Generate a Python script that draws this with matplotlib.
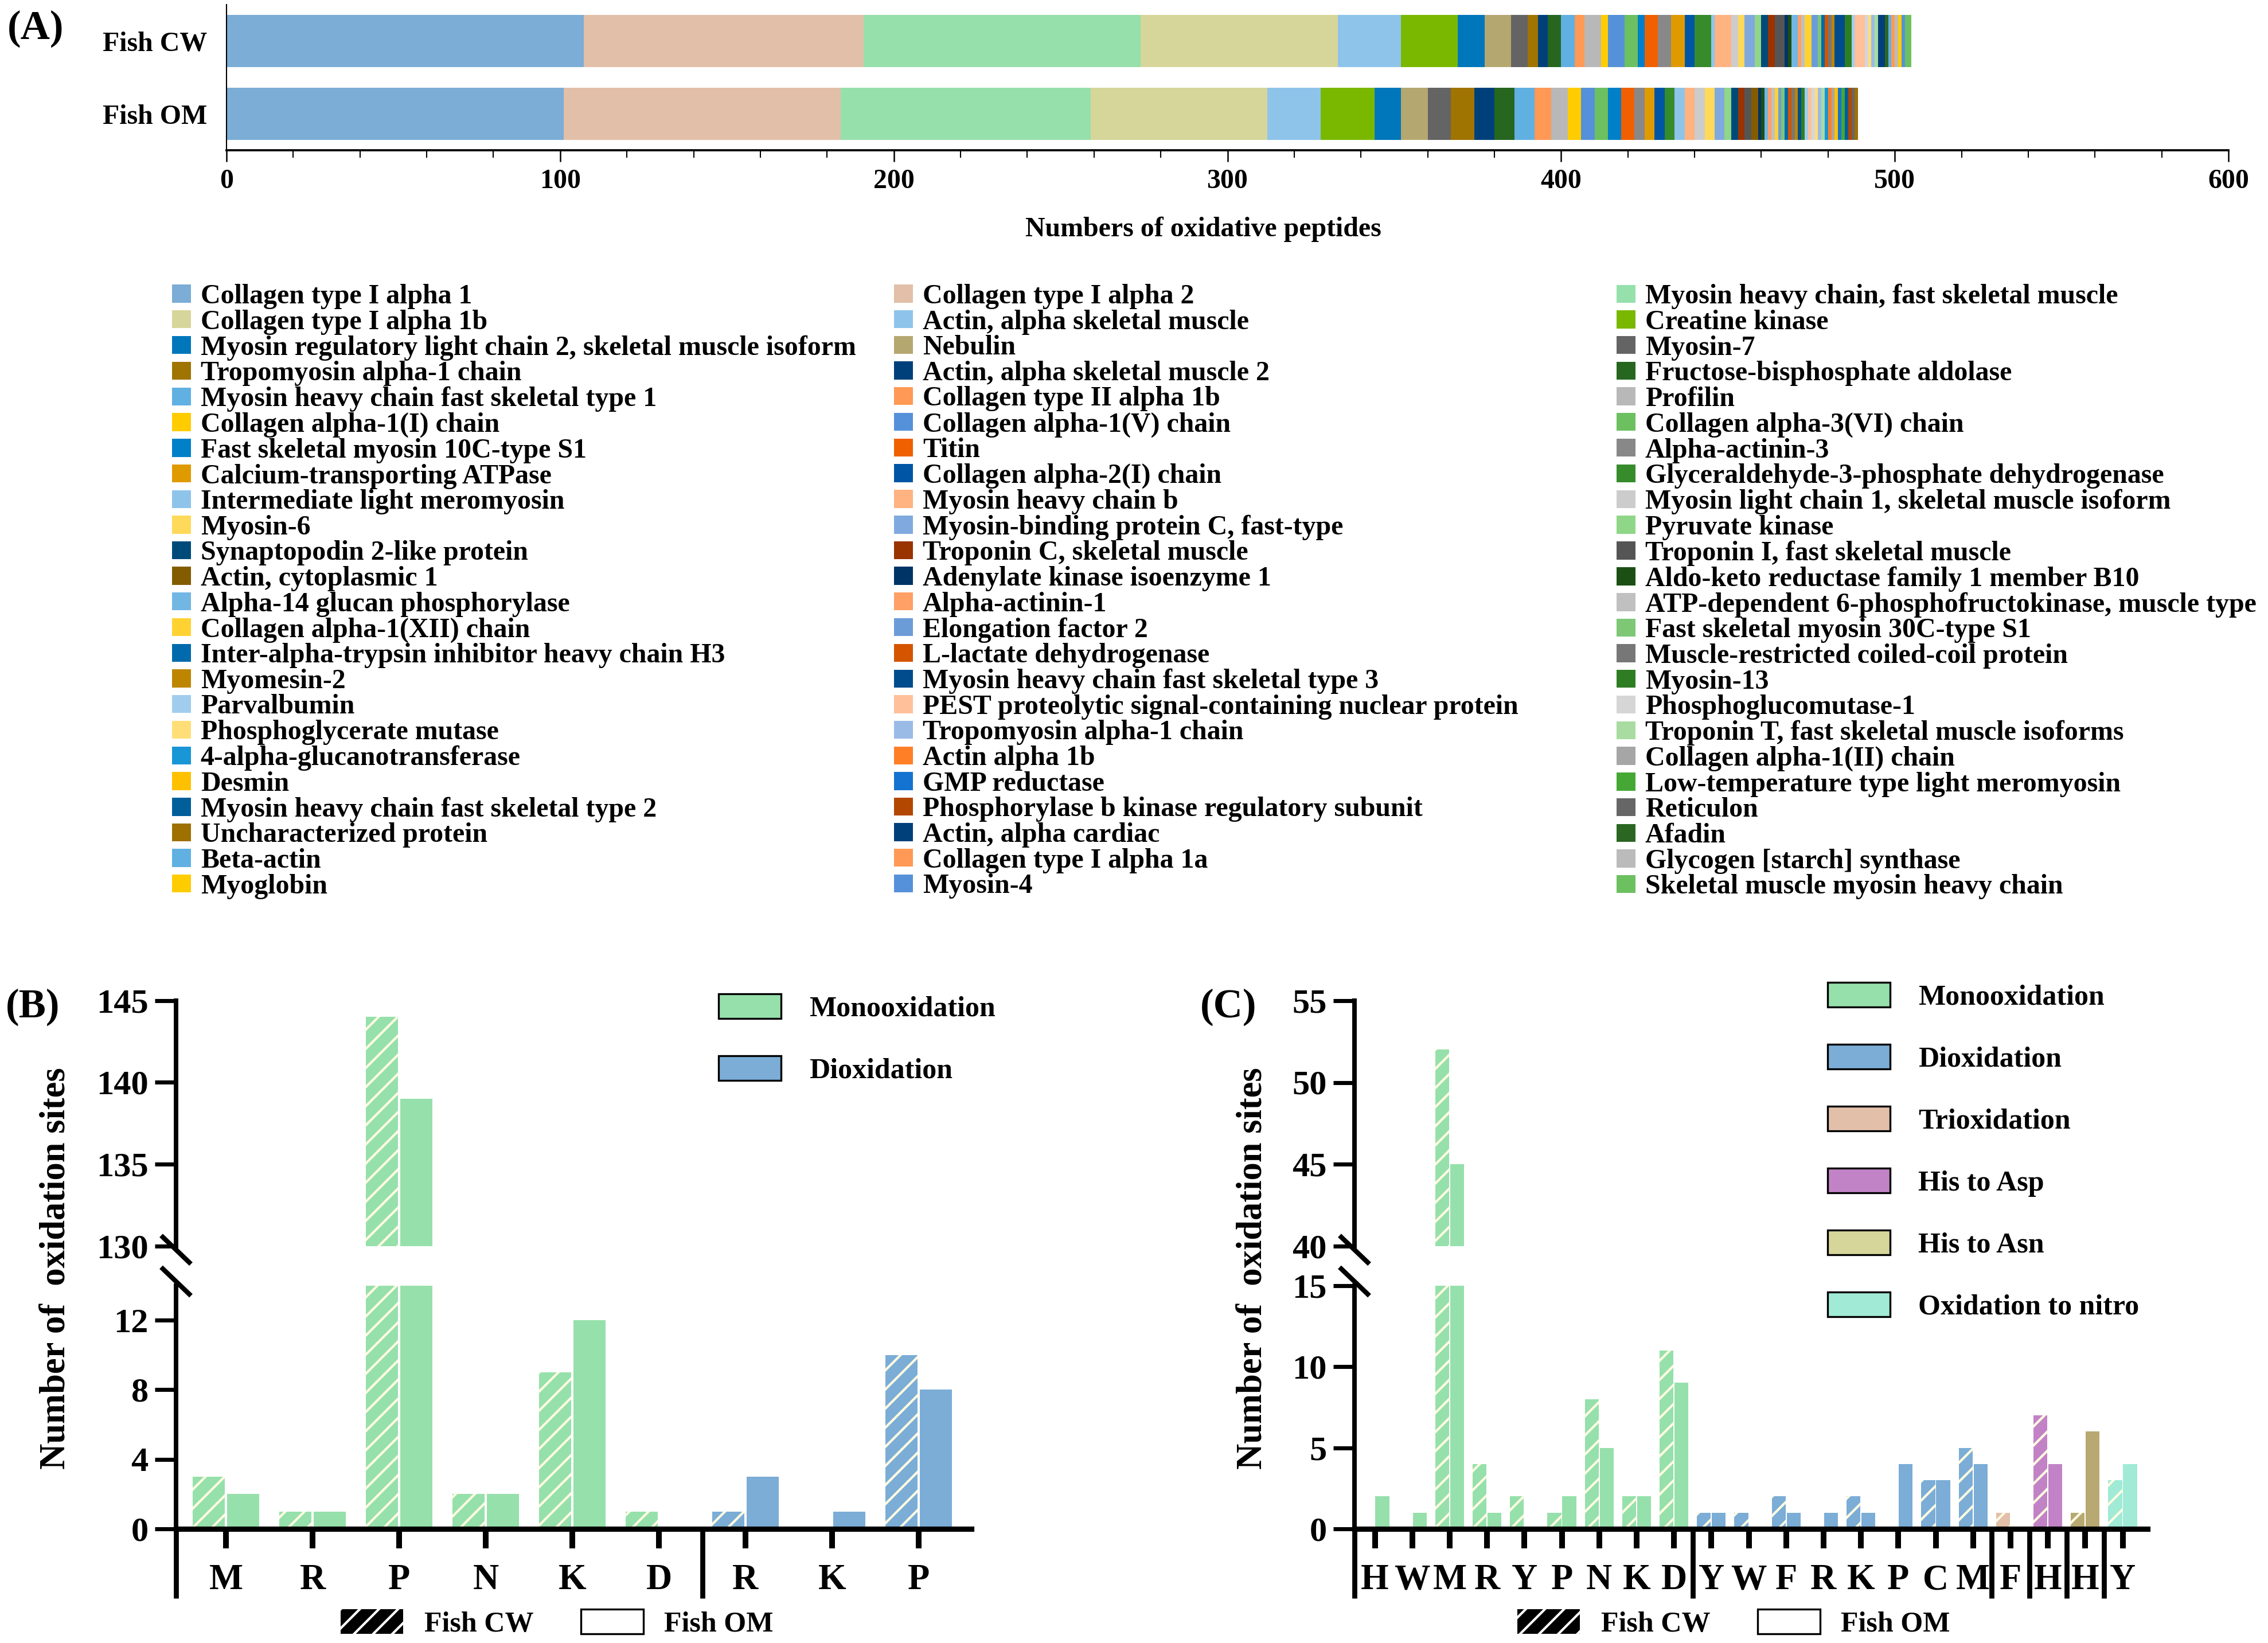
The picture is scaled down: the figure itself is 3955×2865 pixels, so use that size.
import numpy as np
import matplotlib
matplotlib.use('Agg')
import matplotlib.pyplot as plt
from matplotlib.patches import Patch
from matplotlib.ticker import MultipleLocator

plt.rcParams['font.family'] = ['Liberation Serif', 'DejaVu Serif']
plt.rcParams['font.weight'] = 'bold'
plt.rcParams['axes.labelweight'] = 'bold'
plt.rcParams['hatch.linewidth'] = 1.0

# ---------------- data: panel A (bar order = legend read row by row) ----------------
proteins = [
    'Collagen type I alpha 1', 'Collagen type I alpha 2', 'Myosin heavy chain, fast skeletal muscle',
    'Collagen type I alpha 1b', 'Actin, alpha skeletal muscle', 'Creatine kinase',
    'Myosin regulatory light chain 2, skeletal muscle isoform', 'Nebulin', 'Myosin-7',
    'Tropomyosin alpha-1 chain', 'Actin, alpha skeletal muscle 2', 'Fructose-bisphosphate aldolase',
    'Myosin heavy chain fast skeletal type 1', 'Collagen type II alpha 1b', 'Profilin',
    'Collagen alpha-1(I) chain', 'Collagen alpha-1(V) chain', 'Collagen alpha-3(VI) chain',
    'Fast skeletal myosin 10C-type S1', 'Titin', 'Alpha-actinin-3',
    'Calcium-transporting ATPase', 'Collagen alpha-2(I) chain', 'Glyceraldehyde-3-phosphate dehydrogenase',
    'Intermediate light meromyosin', 'Myosin heavy chain b', 'Myosin light chain 1, skeletal muscle isoform',
    'Myosin-6', 'Myosin-binding protein C, fast-type', 'Pyruvate kinase',
    'Synaptopodin 2-like protein', 'Troponin C, skeletal muscle', 'Troponin I, fast skeletal muscle',
    'Actin, cytoplasmic 1', 'Adenylate kinase isoenzyme 1', 'Aldo-keto reductase family 1 member B10',
    'Alpha-14 glucan phosphorylase', 'Alpha-actinin-1', 'ATP-dependent 6-phosphofructokinase, muscle type',
    'Collagen alpha-1(XII) chain', 'Elongation factor 2', 'Fast skeletal myosin 30C-type S1',
    'Inter-alpha-trypsin inhibitor heavy chain H3', 'L-lactate dehydrogenase', 'Muscle-restricted coiled-coil protein',
    'Myomesin-2', 'Myosin heavy chain fast skeletal type 3', 'Myosin-13',
    'Parvalbumin', 'PEST proteolytic signal-containing nuclear protein', 'Phosphoglucomutase-1',
    'Phosphoglycerate mutase', 'Tropomyosin alpha-1 chain', 'Troponin T, fast skeletal muscle isoforms',
    '4-alpha-glucanotransferase', 'Actin alpha 1b', 'Collagen alpha-1(II) chain',
    'Desmin', 'GMP reductase', 'Low-temperature type light meromyosin',
    'Myosin heavy chain fast skeletal type 2', 'Phosphorylase b kinase regulatory subunit', 'Reticulon',
    'Uncharacterized protein', 'Actin, alpha cardiac', 'Afadin',
    'Beta-actin', 'Collagen type I alpha 1a', 'Glycogen [starch] synthase',
    'Myoglobin', 'Myosin-4', 'Skeletal muscle myosin heavy chain',
]

fish_cw_peptides = [
    107, 84, 83,   59, 19, 17,   8, 8, 5,   3, 3, 4,   4, 3, 5,   2, 5, 4,
    2, 4, 4,       4, 3, 5,      1, 5, 2,   2, 3, 2,   2, 2, 3,   0, 1, 1,
    2, 1, 1,       2, 2, 1,      1, 1, 1,   1, 3, 2,   1, 3, 1,   1, 1, 1,
    0, 0, 0,       0, 0, 0,      0, 0, 0,   0, 2, 1,   1, 1, 1,   1, 1, 2,
]

fish_om_peptides = [
    101, 83, 75,   53, 16, 16,   8, 8, 7,   7, 6, 6,   6, 5, 5,   4, 4, 4,
    4, 4, 3,       3, 3, 3,      3, 3, 3,   3, 3, 2,   2, 2, 2,   2, 1, 1,
    1, 1, 1,       1, 1, 1,      1, 1, 1,   1, 1, 1,   1, 1, 1,   1, 1, 1,
    1, 1, 1,       1, 1, 1,      1, 1, 1,   1, 0, 0,   0, 0, 0,   0, 0, 0,
]

protein_colors = [
    '#7BADD6', '#E2BFA8', '#96E0AB',  '#D7D69A', '#8EC4EA', '#7AB800',
    '#0077BB', '#B5A770', '#646464',  '#A07400', '#00407A', '#26661F',
    '#61B0E2', '#FF9955', '#B8B8B8',  '#FFCC00', '#5591D9', '#6CC060',
    '#0080C8', '#F06000', '#888888',  '#DF9A00', '#0055A5', '#368B2B',
    '#8EC4EA', '#FFB380', '#CCCCCC',  '#FFD95A', '#80AADF', '#8FD688',
    '#004A7A', '#993300', '#555555',  '#835C00', '#003366', '#1B4F14',
    '#72B6E4', '#FFA066', '#C0C0C0',  '#FFD234', '#6C9CD8', '#7DC775',
    '#006AAD', '#D45500', '#777777',  '#BE8600', '#004C8C', '#2E7D22',
    '#A0CDEE', '#FFC09A', '#D6D6D6',  '#FFDE78', '#99BBE6', '#A8DCA0',
    '#1896D6', '#FF7F27', '#A6A6A6',  '#FFC000', '#1473D0', '#45A835',
    '#005E9A', '#B34700', '#666666',  '#9E7000', '#00407A', '#2B6622',
    '#61B0E2', '#FF9955', '#BBBBBB',  '#FFCC00', '#5591D9', '#6CC060',
]

# ---------------- data: panel B ----------------
b_residues = ['M', 'R', 'P', 'N', 'K', 'D', 'R', 'K', 'P']
b_types = ['Monooxidation'] * 6 + ['Dioxidation'] * 3
b_fish_cw = [3, 1, 144, 2, 9, 1, 1, 0, 10]
b_fish_om = [2, 1, 139, 2, 12, 0, 3, 1, 8]

# ---------------- data: panel C ----------------
c_residues = ['H', 'W', 'M', 'R', 'Y', 'P', 'N', 'K', 'D',
              'Y', 'W', 'F', 'R', 'K', 'P', 'C', 'M',
              'F', 'H', 'H', 'Y']
c_types = (['Monooxidation'] * 9 + ['Dioxidation'] * 8 +
           ['Trioxidation', 'His to Asp', 'His to Asn', 'Oxidation to nitro'])
c_fish_cw = [0, 0, 52, 4, 2, 1, 8, 2, 11, 1, 1, 2, 0, 2, 0, 3, 5, 1, 7, 1, 3]
c_fish_om = [2, 1, 45, 1, 0, 2, 5, 2, 9, 1, 0, 1, 1, 1, 4, 3, 4, 0, 4, 6, 4]

type_colors = {'Monooxidation': '#96E0AB', 'Dioxidation': '#7BADD6',
               'Trioxidation': '#E2BFA8', 'His to Asp': '#C283C6',
               'His to Asn': '#D7D69A', 'Oxidation to nitro': '#A0EAD6'}
bar_colors = dict(type_colors)
bar_colors['His to Asn'] = '#B8A972'

# ---------------- figure ----------------
W, H = 3955, 2865
fig = plt.figure(figsize=(W / 300, H / 300), dpi=300)


def fx(px):
    return px / W


def fy(py):
    return 1 - py / H


# ---- panel A ----
axA = fig.add_axes([fx(395), fy(262), (3886 - 395) / W, (262 - 8) / H])
left_cw = np.concatenate([[0], np.cumsum(fish_cw_peptides)[:-1]])
left_om = np.concatenate([[0], np.cumsum(fish_om_peptides)[:-1]])
for i, name in enumerate(proteins):
    axA.barh([1, 0], [fish_cw_peptides[i], fish_om_peptides[i]],
             left=[left_cw[i], left_om[i]], height=0.72,
             color=protein_colors[i], linewidth=0)
axA.set_xlim(0, 600)
axA.set_ylim(-0.5, 1.5)
axA.set_yticks([1, 0])
axA.set_yticklabels(['Fish CW', 'Fish OM'])
axA.tick_params(axis='y', length=0, pad=8, labelsize=11.5)
axA.xaxis.set_major_locator(MultipleLocator(100))
axA.xaxis.set_minor_locator(MultipleLocator(20))
axA.tick_params(axis='x', which='major', length=4.8, width=0.6, pad=3, labelsize=11.5)
axA.tick_params(axis='x', which='minor', length=3.1, width=0.5)
for s in ['top', 'right']:
    axA.spines[s].set_visible(False)
axA.spines['left'].set_linewidth(0.5)
axA.spines['bottom'].set_linewidth(0.9)
axA.set_xlabel('Numbers of oxidative peptides', fontsize=11.5, va='center')
axA.xaxis.set_label_coords((2098 - 395) / 3491, -(400 - 262) / 254)

handles = [Patch(facecolor=c, edgecolor='none') for c in protein_colors]
for j, x0 in enumerate([300, 1559, 2819]):
    idx = list(range(j, len(proteins), 3))
    fig.legend([handles[i] for i in idx], [proteins[i] for i in idx],
               loc='upper left', bbox_to_anchor=(fx(x0), fy(495)),
               frameon=False, fontsize=11.5, handlelength=0.69, handleheight=0.63,
               handletextpad=0.35, labelspacing=0.013, borderpad=0, borderaxespad=0)

fig.text(fx(13), fy(50), '(A)', fontsize=17, va='center', ha='left')


# ---- panels B and C (broken y axis) ----
def broken_panel(x_left, x_right, first_center, spacing, residues, types, cw, om,
                 upper, upper_ticks, lower, lower_ticks, separators):
    top_px, upper_bot_px, lower_top_px, zero_px = 1744.6, 2173.3, 2241.6, 2666.0
    ax_top = fig.add_axes([fx(x_left), fy(upper_bot_px), (x_right - x_left) / W,
                           (upper_bot_px - top_px) / H])
    ax_bot = fig.add_axes([fx(x_left), fy(zero_px), (x_right - x_left) / W,
                           (zero_px - lower_top_px) / H])
    x = np.arange(len(residues))
    cols = [bar_colors[t] for t in types]
    xl = -(first_center - x_left) / spacing
    xr = (x_right - first_center) / spacing
    for ax in (ax_top, ax_bot):
        ax.bar(x - 0.2, cw, width=0.37, color=cols, edgecolor='#FFFBE0',
               linewidth=0, hatch='///')
        ax.bar(x + 0.2, om, width=0.37, color=cols, linewidth=0)
        ax.set_xlim(xl, xr)
        for s in ['top', 'right']:
            ax.spines[s].set_visible(False)
        ax.spines['left'].set_linewidth(1.9)
        ax.tick_params(axis='y', length=9, width=1.7, pad=2.6, labelsize=14.5)
    ax_top.set_ylim(*upper)
    ax_top.set_yticks(upper_ticks)
    ax_top.spines['bottom'].set_visible(False)
    ax_top.tick_params(axis='x', bottom=False, labelbottom=False)
    ax_bot.set_ylim(*lower)
    ax_bot.set_yticks(lower_ticks)
    ax_bot.spines['bottom'].set_linewidth(2.2)
    ax_bot.set_xticks(x)
    ax_bot.set_xticklabels(residues)
    ax_bot.tick_params(axis='x', length=8.2, width=2.4, pad=6.5, labelsize=15)

    # separators below the axis
    drop = (2787 - zero_px) / (zero_px - lower_top_px)
    for sx in [xl] + separators:
        ax_bot.plot([sx, sx], [0, -drop], transform=ax_bot.get_xaxis_transform(),
                    color='black', lw=2.1, clip_on=False, solid_capstyle='butt')

    # break marks
    w_px = x_right - x_left
    h_top = upper_bot_px - top_px
    h_bot = zero_px - lower_top_px
    dx = 23 / w_px
    cy = -6 / h_top
    ax_top.plot([-dx, dx], [cy + 22 / h_top, cy - 22 / h_top], transform=ax_top.transAxes,
                color='black', lw=2.0, clip_on=False)
    cy = 1 + 7 / h_bot
    ax_bot.plot([-dx, dx], [cy + 22 / h_bot, cy - 22 / h_bot], transform=ax_bot.transAxes,
                color='black', lw=2.0, clip_on=False)
    return ax_top, ax_bot


broken_panel(307, 1694, 394, 151, b_residues, b_types, b_fish_cw, b_fish_om,
             (130, 145), [130, 135, 140, 145], (0, 14), [0, 4, 8, 12], [5.5])
broken_panel(2362, 3745, 2397.5, 65.2, c_residues, c_types, c_fish_cw, c_fish_om,
             (40, 55), [40, 45, 50, 55], (0, 15), [0, 5, 10, 15],
             [8.5, 16.5, 17.5, 18.5, 19.5])

for xpos in [98, 2184]:
    fig.text(fx(xpos), fy(2212), 'Number of  oxidation sites', rotation=90,
             ha='center', va='center', fontsize=15)
fig.text(fx(10), fy(1756), '(B)', fontsize=17, va='center', ha='left')
fig.text(fx(2093), fy(1756), '(C)', fontsize=17, va='center', ha='left')

# type legends
leg_kw = dict(loc='upper left', frameon=False, fontsize=12, handlelength=2.18,
              handleheight=0.96, handletextpad=0.98, labelspacing=1.16,
              borderpad=0, borderaxespad=0)
b_names = ['Monooxidation', 'Dioxidation']
fig.legend([Patch(facecolor=type_colors[n], edgecolor='black', lw=0.8) for n in b_names],
           b_names, bbox_to_anchor=(fx(1253), fy(1733)), **leg_kw)
c_names = list(type_colors.keys())
fig.legend([Patch(facecolor=type_colors[n], edgecolor='black', lw=0.8) for n in c_names],
           c_names, bbox_to_anchor=(fx(3187), fy(1713)), **leg_kw)

# sample legends
for x0 in [594, 2646]:
    fig.legend([Patch(facecolor='black', edgecolor='white', hatch='///', lw=0),
                Patch(facecolor='white', edgecolor='black', lw=0.8)],
               ['Fish CW', 'Fish OM'], ncol=2, loc='upper left',
               bbox_to_anchor=(fx(x0), fy(2806)), frameon=False, fontsize=12,
               handlelength=2.18, handleheight=0.94, handletextpad=0.74,
               columnspacing=1.64, borderpad=0, borderaxespad=0)

fig.savefig('out.png', dpi=300)
